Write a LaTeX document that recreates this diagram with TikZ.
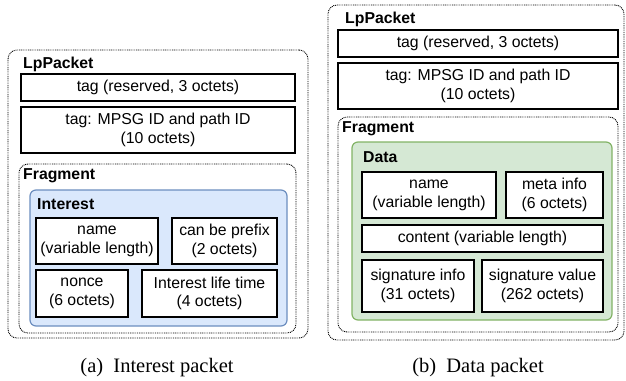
\documentclass[tikz,border=0pt]{standalone}
\usepackage{fontspec}
\setmainfont{Liberation Serif}
\setsansfont{Liberation Sans}
\newfontfamily\labfont{Liberation Sans}
\definecolor{ifill}{HTML}{DAE8FC}
\definecolor{idraw}{HTML}{6C8EBF}
\definecolor{dfill}{HTML}{D5E8D4}
\definecolor{ddraw}{HTML}{82B366}
\tikzset{
  lab/.style={font=\labfont\fontsize{15.8}{18.8}\selectfont},
  fieldbox/.style={lab, draw, line width=1.2pt, fill=white, align=center, inner sep=0pt},
  outerbox/.style={draw, dash pattern=on 0.9pt off 0.9pt, line width=0.9pt, rounded corners=9pt, inner sep=0pt},
  interestbox/.style={draw=idraw, fill=ifill, line width=1.2pt, rounded corners=6pt, inner sep=0pt},
  databox/.style={draw=ddraw, fill=dfill, line width=1.2pt, rounded corners=6pt, inner sep=0pt},
  title/.style={font=\labfont\bfseries\fontsize{15.8}{18.8}\selectfont, anchor=west, inner sep=0pt},
  caption/.style={font=\fontsize{20.5}{24}\selectfont, inner sep=0pt}
}
\begin{document}
\begin{tikzpicture}[x=1pt,y=-1pt]
\useasboundingbox (0,0) rectangle (626,380);
% ---------- (a) Interest packet ----------
\node[outerbox, minimum width=300pt, minimum height=288pt] (aouter) at (158,194) {};
\node[title] (alp) at (23,64) {LpPacket};
\node[fieldbox, minimum width=274pt, minimum height=27pt] (atag1) at (158,87.5) {tag (reserved, 3 octets)};
\node[fieldbox, minimum width=274pt, minimum height=46pt] (atag2) at (158,130) {tag: MPSG ID and path ID\\(10 octets)};
\node[outerbox, minimum width=277pt, minimum height=169pt] (afrag) at (157.5,248.5) {};
\node[title] (afragt) at (23,176) {Fragment};
\node[interestbox, minimum width=257pt, minimum height=136pt] (aint) at (158.5,258) {};
\node[title] (aintt) at (37,204) {Interest};
\node[fieldbox, minimum width=122pt, minimum height=46pt] (aname) at (97,241) {name\\(variable length)};
\node[fieldbox, minimum width=105pt, minimum height=46pt] (aprefix) at (224.5,241) {can be prefix\\(2 octets)};
\node[fieldbox, minimum width=92pt, minimum height=47pt] (anonce) at (82,293.5) {nonce\\(6 octets)};
\node[fieldbox, minimum width=135pt, minimum height=47pt] (alife) at (209.5,293.5) {Interest life time\\(4 octets)};
\node[caption] (acap) at (157,368) {(a)\hspace{0.5em}Interest packet};
% ---------- (b) Data packet ----------
\node[outerbox, minimum width=296pt, minimum height=335pt] (bouter) at (476,172.5) {};
\node[title] (blp) at (345,19) {LpPacket};
\node[fieldbox, minimum width=280pt, minimum height=27pt] (btag1) at (478,43.5) {tag (reserved, 3 octets)};
\node[fieldbox, minimum width=280pt, minimum height=46pt] (btag2) at (478,86) {tag: MPSG ID and path ID\\(10 octets)};
\node[outerbox, minimum width=280pt, minimum height=215pt] (bfrag) at (478,224.5) {};
\node[title] (bfragt) at (342,129) {Fragment};
\node[databox, minimum width=260pt, minimum height=178pt] (bdata) at (482,231) {};
\node[title] (bdatat) at (363,157) {Data};
\node[fieldbox, minimum width=134pt, minimum height=46pt] (bname) at (429,195) {name\\(variable length)};
\node[fieldbox, minimum width=97pt, minimum height=46pt] (bmeta) at (554.5,195) {meta info\\(6 octets)};
\node[fieldbox, minimum width=241pt, minimum height=27pt] (bcontent) at (482.5,238.5) {content (variable length)};
\node[fieldbox, minimum width=112pt, minimum height=52pt] (bsiginfo) at (418,286) {signature info\\(31 octets)};
\node[fieldbox, minimum width=121pt, minimum height=52pt] (bsigval) at (542.5,286) {signature value\\(262 octets)};
\node[caption] (bcap) at (478,368) {(b)\hspace{0.5em}Data packet};
\end{tikzpicture}
\end{document}
